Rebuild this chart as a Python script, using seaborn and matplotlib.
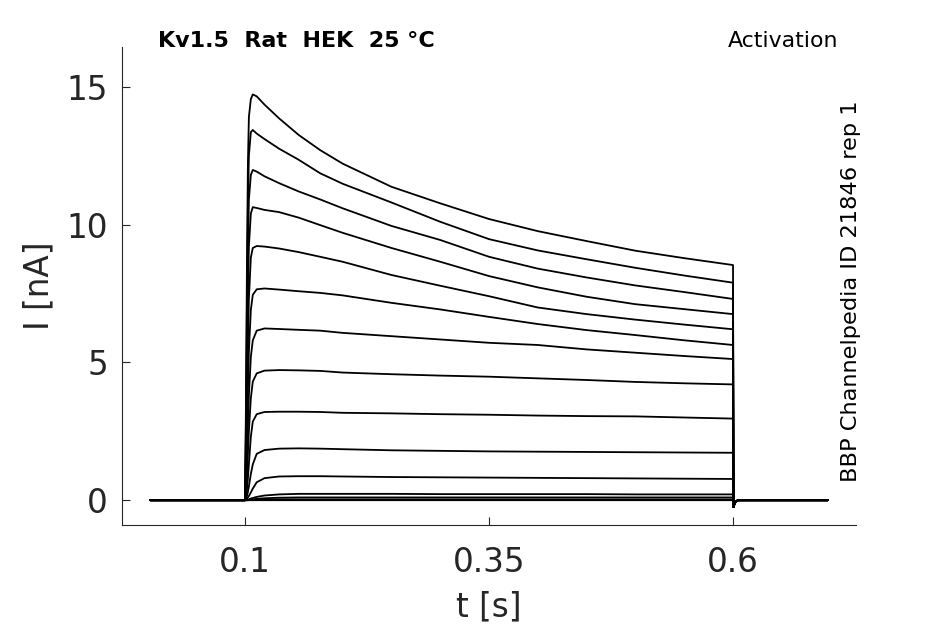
import numpy as np
import pandas as pd
import matplotlib
matplotlib.use("Agg")
import matplotlib.pyplot as plt
import seaborn as sns

# ---- data ----
t_base = [0.003]
t_step = [0.1, 0.101, 0.102, 0.103, 0.104, 0.106, 0.108, 0.112, 0.12, 0.135,
          0.155, 0.177, 0.2, 0.25, 0.3, 0.35, 0.4, 0.45, 0.5, 0.55, 0.6]
t_tail = [0.6005, 0.602, 0.605, 0.697]
i_base = [0.0]
i_tail = [-0.25, -0.08, 0.0, 0.0]

sweep_01 = [0, 3.5, 8.5, 12.2, 13.9, 14.55, 14.72, 14.65, 14.35, 13.85, 13.25, 12.70, 12.21, 11.37, 10.77, 10.20, 9.76, 9.40, 9.05, 8.78, 8.53]
sweep_02 = [0, 2.8, 7.2, 10.6, 12.5, 13.35, 13.43, 13.30, 13.10, 12.75, 12.35, 11.86, 11.48, 10.80, 10.10, 9.47, 9.06, 8.74, 8.43, 8.15, 7.89]
sweep_03 = [0, 2.2, 6.0, 9.0, 10.9, 11.80, 11.98, 11.92, 11.75, 11.50, 11.20, 10.91, 10.59, 9.95, 9.44, 8.83, 8.40, 8.08, 7.79, 7.55, 7.30]
sweep_04 = [0, 1.5, 4.5, 7.4, 9.2, 10.40, 10.63, 10.60, 10.53, 10.45, 10.25, 9.98, 9.70, 9.15, 8.65, 8.13, 7.72, 7.38, 7.11, 6.93, 6.75]
sweep_05 = [0, 1.0, 3.2, 5.6, 7.3, 8.80, 9.15, 9.22, 9.20, 9.13, 9.00, 8.83, 8.65, 8.17, 7.78, 7.40, 6.99, 6.75, 6.55, 6.37, 6.20]
sweep_06 = [0, 0.7, 2.2, 4.0, 5.4, 6.90, 7.45, 7.65, 7.68, 7.64, 7.58, 7.52, 7.43, 7.16, 6.92, 6.65, 6.39, 6.17, 5.99, 5.80, 5.63]
sweep_07 = [0, 0.4, 1.4, 2.7, 3.8, 5.20, 5.80, 6.15, 6.23, 6.21, 6.18, 6.15, 6.07, 5.95, 5.83, 5.71, 5.63, 5.47, 5.35, 5.23, 5.12]
sweep_08 = [0, 0.2, 0.8, 1.7, 2.5, 3.70, 4.30, 4.60, 4.70, 4.72, 4.71, 4.69, 4.63, 4.57, 4.52, 4.48, 4.42, 4.36, 4.29, 4.24, 4.20]
sweep_09 = [0, 0.1, 0.4, 0.8, 1.3, 2.30, 2.85, 3.12, 3.20, 3.21, 3.21, 3.20, 3.17, 3.15, 3.12, 3.10, 3.07, 3.05, 3.04, 3.00, 2.96]
sweep_10 = [0, 0.05, 0.15, 0.3, 0.5, 0.95, 1.30, 1.68, 1.82, 1.87, 1.88, 1.87, 1.85, 1.81, 1.79, 1.77, 1.76, 1.75, 1.74, 1.73, 1.72]
sweep_11 = [0, 0.02, 0.05, 0.1, 0.15, 0.28, 0.42, 0.65, 0.80, 0.86, 0.87, 0.87, 0.86, 0.84, 0.83, 0.82, 0.81, 0.80, 0.79, 0.78, 0.77]
sweep_12 = [0, 0.0, 0.01, 0.02, 0.03, 0.06, 0.08, 0.12, 0.17, 0.21, 0.23, 0.23, 0.23, 0.23, 0.22, 0.22, 0.22, 0.22, 0.21, 0.21, 0.21]
sweep_13 = [0, 0.0, 0.0, 0.005, 0.01, 0.02, 0.03, 0.05, 0.07, 0.09, 0.10, 0.10, 0.10, 0.10, 0.10, 0.10, 0.10, 0.10, 0.10, 0.10, 0.10]
sweep_14 = [0, 0.0, 0.0, 0.0, 0.0, 0.005, 0.01, 0.015, 0.02, 0.03, 0.03, 0.03, 0.03, 0.03, 0.03, 0.03, 0.03, 0.03, 0.03, 0.03, 0.03]
sweep_15 = [0, 0.0, 0.0, 0.0, 0.0, 0.0, 0.0, 0.0, 0.0, 0.0, 0.0, 0.0, 0.0, 0.0, 0.0, 0.0, 0.0, 0.0, 0.0, 0.0, 0.0]

sweeps = [sweep_01, sweep_02, sweep_03, sweep_04, sweep_05, sweep_06, sweep_07,
          sweep_08, sweep_09, sweep_10, sweep_11, sweep_12, sweep_13, sweep_14, sweep_15]

x_ticks = [0.1, 0.35, 0.6]
x_ticklabels = ["0.1", "0.35", "0.6"]
y_ticks = [0, 5, 10, 15]

title_left = "Kv1.5  Rat  HEK  25 °C"
title_right = "Activation"
side_text = "BBP Channelpedia ID 21846 rep 1"

# ---- build table ----
rows = []
for k, sw in enumerate(sweeps):
    tt = t_base + t_step + t_tail
    ii = i_base + list(sw) + i_tail
    for t, i in zip(tt, ii):
        rows.append({"sweep": k, "t": t, "I": i})
df = pd.DataFrame(rows)

# ---- figure ----
sns.set_theme(style="ticks")
plt.rcParams["font.family"] = ["DejaVu Sans"]
plt.rcParams["xtick.direction"] = "in"
plt.rcParams["ytick.direction"] = "in"

fig = plt.figure(figsize=(9.45, 6.24), dpi=100)
ax = fig.add_axes([122 / 945, 1 - 525 / 624, (856 - 122) / 945, (525 - 47) / 624])

sns.lineplot(data=df, x="t", y="I", units="sweep", estimator=None, sort=False,
             color="black", linewidth=1.3, ax=ax, legend=False)

ax.set_xlim(-0.026, 0.726)
ax.set_ylim(-0.9, 16.44)
ax.set_xticks(x_ticks)
ax.set_xticklabels(x_ticklabels)
ax.set_yticks(y_ticks)
ax.tick_params(axis="both", labelsize=23.5, colors="#262626", length=5.5, width=0.8, pad=10)
ax.tick_params(axis="x", pad=15)
for s in ["top", "right"]:
    ax.spines[s].set_visible(False)
for s in ["left", "bottom"]:
    ax.spines[s].set_color("#262626")
    ax.spines[s].set_linewidth(0.8)

ax.set_xlabel("t [s]", fontsize=23.5, color="#262626", labelpad=8.5)
ax.set_ylabel("I [nA]", fontsize=23.5, color="#262626", labelpad=8)

fig.text(158 / 945, 1 - 47 / 624, title_left, fontsize=16, fontweight="bold",
         ha="left", va="baseline", color="black")
fig.text(838 / 945, 1 - 47 / 624, title_right, fontsize=15.8,
         ha="right", va="baseline", color="black")
fig.text(851 / 945, 1 - 291.5 / 624, side_text, fontsize=16.2, rotation=90,
         ha="center", va="center", color="black")

fig.savefig("out.png", dpi=100)
